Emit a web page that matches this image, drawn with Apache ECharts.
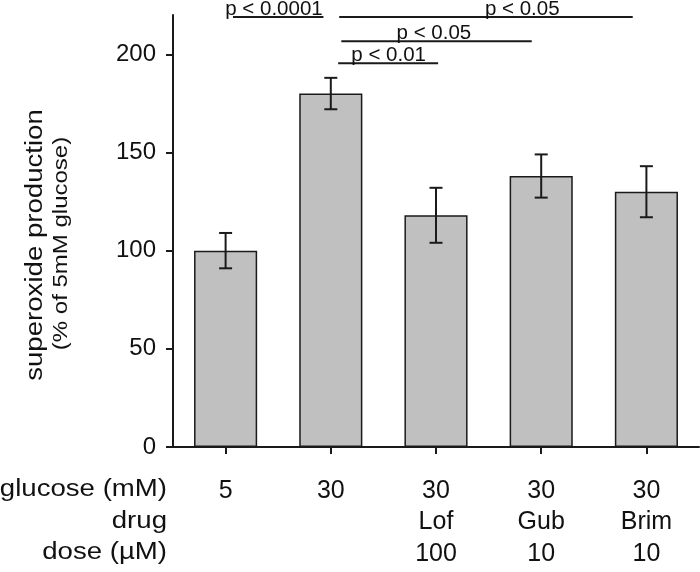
<!DOCTYPE html>
<html>
<head>
<meta charset="utf-8">
<script src="https://cdn.jsdelivr.net/npm/echarts@6/dist/echarts.min.js"></script>
<style>
html,body{margin:0;padding:0;background:#fff;}
#chart{width:700px;height:572px;}
</style>
</head>
<body>
<div id="chart"></div>
<script>
// ---- data ----
const glucose = ['5', '30', '30', '30', '30'];
const drug = ['', '', 'Lof', 'Gub', 'Brim'];
const dose = ['', '', '100', '10', '10'];
const rowLabels = ['glucose (mM)', 'drug', 'dose (µM)'];
const values = [100, 180, 118, 138, 130];
const errors = [9, 8, 14, 11, 13];
const yTicks = [0, 50, 100, 150, 200];
// significance brackets (x in category index units, y in data units)
const sigFrom = [0.07, 1.08, 1.10, 1.07];
const sigTo = [0.93, 3.87, 2.91, 2.02];
const sigY = [219, 219, 206.6, 195.4];
const sigTextX = [0.46, 2.82, 1.98, 1.55];
const sigText = ['p < 0.0001', 'p < 0.05', 'p < 0.05', 'p < 0.01'];

const FONT = 'Liberation Sans';
const INK = '#1a1a1a';

const categories = glucose.map((g, i) => [g, drug[i], dose[i]].filter(s => s !== '').join('\n'));

const chart = echarts.init(document.getElementById('chart'), null, {renderer: 'canvas'});

const errData = values.map((v, i) => [i, v - errors[i], v + errors[i]]);
const sigData = sigFrom.map((f, i) => [f, sigTo[i], sigY[i], sigTextX[i], i]);

const option = {
  backgroundColor: '#fff',
  animation: false,
  grid: {left: 173, right: 1, top: 15, bottom: 125, containLabel: false},
  xAxis: [{
    type: 'category',
    data: categories,
    axisLine: {lineStyle: {color: INK, width: 2}},
    axisTick: {show: true, alignWithLabel: true, length: 7, lineStyle: {color: INK, width: 2}},
    axisLabel: {
      color: '#111', fontFamily: FONT, fontSize: 25, lineHeight: 31.5, margin: 28,
      interval: 0, align: 'center'
    },
    splitLine: {show: false}
  }, {
    type: 'value', min: -0.5, max: 4.5, show: false
  }],
  yAxis: {
    type: 'value', min: 0, max: 220,
    axisLine: {show: true, onZero: false, lineStyle: {color: INK, width: 2}},
    axisTick: {show: true, length: 7, lineStyle: {color: INK, width: 2}, customValues: yTicks},
    axisLabel: {color: '#111', fontFamily: FONT, fontSize: 24, margin: 17, customValues: yTicks},
    splitLine: {show: false}
  },
  series: [{
    type: 'bar',
    data: values,
    barWidth: '60%',
    itemStyle: {color: '#c0c0c0', borderColor: INK, borderWidth: 1.5},
    z: 2
  }, {
    type: 'custom',
    data: errData,
    z: 3,
    renderItem: function (params, api) {
      const lo = api.coord([api.value(0), api.value(1)]);
      const hi = api.coord([api.value(0), api.value(2)]);
      const hw = 6.5;
      const st = {stroke: INK, lineWidth: 2};
      return {
        type: 'group',
        children: [
          {type: 'line', shape: {x1: hi[0], y1: hi[1], x2: lo[0], y2: lo[1]}, style: st},
          {type: 'line', shape: {x1: hi[0] - hw, y1: hi[1], x2: hi[0] + hw, y2: hi[1]}, style: st},
          {type: 'line', shape: {x1: lo[0] - hw, y1: lo[1], x2: lo[0] + hw, y2: lo[1]}, style: st}
        ]
      };
    }
  }, {
    type: 'custom',
    xAxisIndex: 1,
    data: sigData,
    clip: false,
    z: 4,
    renderItem: function (params, api) {
      const a = api.coord([api.value(0), api.value(2)]);
      const b = api.coord([api.value(1), api.value(2)]);
      const t = api.coord([api.value(3), api.value(2)]);
      return {
        type: 'group',
        children: [
          {type: 'line', shape: {x1: a[0], y1: a[1], x2: b[0], y2: b[1]}, style: {stroke: INK, lineWidth: 2}},
          {type: 'text', x: t[0], y: t[1] + 3, style: {
            text: sigText[api.value(4)], fill: '#111', font: '20.5px "' + FONT + '"',
            align: 'center', verticalAlign: 'bottom'
          }}
        ]
      };
    }
  }],
  graphic: [
    {type: 'text', x: 36, y: 245, rotation: Math.PI / 2, scaleX: 1.2, style: {
      text: 'superoxide production', fill: '#111', font: '23px "' + FONT + '"', align: 'center', verticalAlign: 'middle'}},
    {type: 'text', x: 61, y: 243.5, rotation: Math.PI / 2, scaleX: 1.2, style: {
      text: '(% of 5mM glucose)', fill: '#111', font: '20px "' + FONT + '"', align: 'center', verticalAlign: 'middle'}}
  ].concat(rowLabels.map((t, i) => ({
    type: 'text', x: 167, y: 490 + i * 31.5, scaleX: 1.2, style: {
      text: t, fill: '#111', font: '23px "' + FONT + '"', align: 'right', verticalAlign: 'middle'}
  })))
};
chart.setOption(option);
</script>
</body>
</html>
